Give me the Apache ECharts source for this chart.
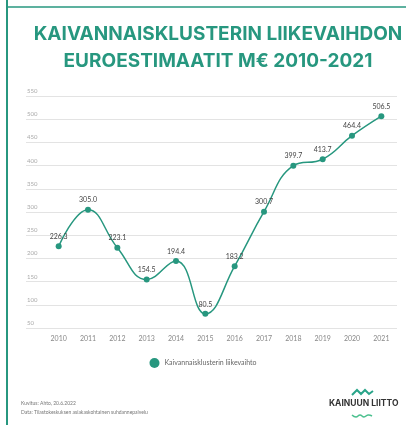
<!DOCTYPE html>
<html>
<head>
<meta charset="utf-8">
<script src="https://cdn.jsdelivr.net/npm/echarts@6/dist/echarts.min.js"></script>
<style>
  html, body { margin: 0; padding: 0; background: #fff; }
  #id-chart { width: 406px; height: 425px; }
</style>
</head>
<body>
<div id="id-chart"></div>
<script>
let years = ['2010','2011','2012','2013','2014','2015','2016','2017','2018','2019','2020','2021'];
let turnover = [226.3, 305.0, 223.1, 154.5, 194.4, 80.5, 183.2, 300.7, 399.7, 413.7, 464.4, 506.5];
let seriesName = 'Kaivannaisklusterin liikevaihto';
let titleLines = ['KAIVANNAISKLUSTERIN LIIKEVAIHDON', 'EUROESTIMAATIT M€ 2010-2021'];
let footLines = ['Kuvitus: Ahto, 20.6.2022', 'Data: Tilastokeskuksen asiakaskohtainen suhdannepalvelu'];

let teal = '#27977f';
let font = 'Lato, "Open Sans", sans-serif';

let chart = {};
chart.echart = echarts.init(document.getElementById('id-chart'), null, { renderer: 'canvas' });
chart.load = function() {
  this.echart.setOption({
    animation: false,
    textStyle: { fontFamily: font },
    title: {
      text: titleLines.join('\n'),
      left: 213,
      textAlign: 'center',
      top: 16,
      textStyle: {
        fontFamily: 'Inter, sans-serif',
        fontWeight: 700,
        fontSize: 19,
        lineHeight: 27,
        color: teal
      }
    },
    legend: {
      bottom: 52,
      left: 'center',
      icon: 'circle',
      itemWidth: 10,
      itemHeight: 10,
      itemGap: 6,
      textStyle: { fontSize: 7, color: '#666' },
      data: [seriesName]
    },
    grid: [
      { left: 26, right: 9, top: 96, bottom: 97 },   // gridlines
      { left: 44, right: 10, top: 96, bottom: 97 }   // data
    ],
    xAxis: [{
      gridIndex: 0,
      type: 'category',
      data: years,
      show: false
    }, {
      gridIndex: 1,
      type: 'category',
      data: years,
      axisLine: { show: false },
      axisTick: { show: false },
      axisLabel: { fontSize: 7, color: '#888', margin: 7 }
    }],
    yAxis: [{
      gridIndex: 0,
      type: 'value',
      min: 50,
      max: 550,
      interval: 50,
      axisLine: { show: false },
      axisTick: { show: false },
      axisLabel: {
        inside: true,
        margin: 1,
        verticalAlign: 'bottom',
        fontSize: 6,
        color: '#aaa',
        padding: [0, 0, 2, 0]
      },
      splitLine: { lineStyle: { color: '#e3e3e3', width: 1 } }
    }, {
      gridIndex: 1,
      type: 'value',
      min: 50,
      max: 550,
      interval: 50,
      show: false,
      splitLine: { show: false }
    }],
    series: [{
      name: seriesName,
      type: 'line',
      xAxisIndex: 1,
      yAxisIndex: 1,
      data: turnover,
      smooth: 0.45,
      symbol: 'circle',
      symbolSize: 6,
      itemStyle: { color: teal },
      lineStyle: { color: teal, width: 1.5 },
      label: {
        show: true,
        position: 'top',
        distance: 3,
        fontSize: 7,
        color: '#444',
        formatter: function(p) { return p.value.toFixed(1); }
      }
    }],
    graphic: [
      { type: 'line', shape: { x1: 7, y1: 0, x2: 7, y2: 425 }, style: { stroke: teal, lineWidth: 2 } },
      { type: 'line', shape: { x1: 6, y1: 7, x2: 406, y2: 7 }, style: { stroke: teal, lineWidth: 1.5 } },
      { type: 'text', left: 21, top: 401, style: { text: footLines[0], fontSize: 5, fill: '#777', fontFamily: font } },
      { type: 'text', left: 21, top: 410, style: { text: footLines[1], fontSize: 5, fill: '#777', fontFamily: font } },
      { type: 'polyline', shape: { points: [[352, 395], [357, 390], [361, 394], [365, 390], [369, 394], [373, 391]] },
        style: { stroke: '#2aa58a', lineWidth: 2, fill: null } },
      { type: 'text', left: 329, top: 399, style: { text: 'KAINUUN LIITTO', fontSize: 8.5, fontWeight: 'bold', fill: '#333', fontFamily: 'Inter, sans-serif' } },
      { type: 'polyline', shape: { points: [[352, 415], [356, 417], [360, 415], [364, 417], [368, 415], [372, 416]], smooth: 0.5 },
        style: { stroke: '#4cc08f', lineWidth: 1.5, fill: null } }
    ]
  });
};
chart.load();
</script>
</body>
</html>
